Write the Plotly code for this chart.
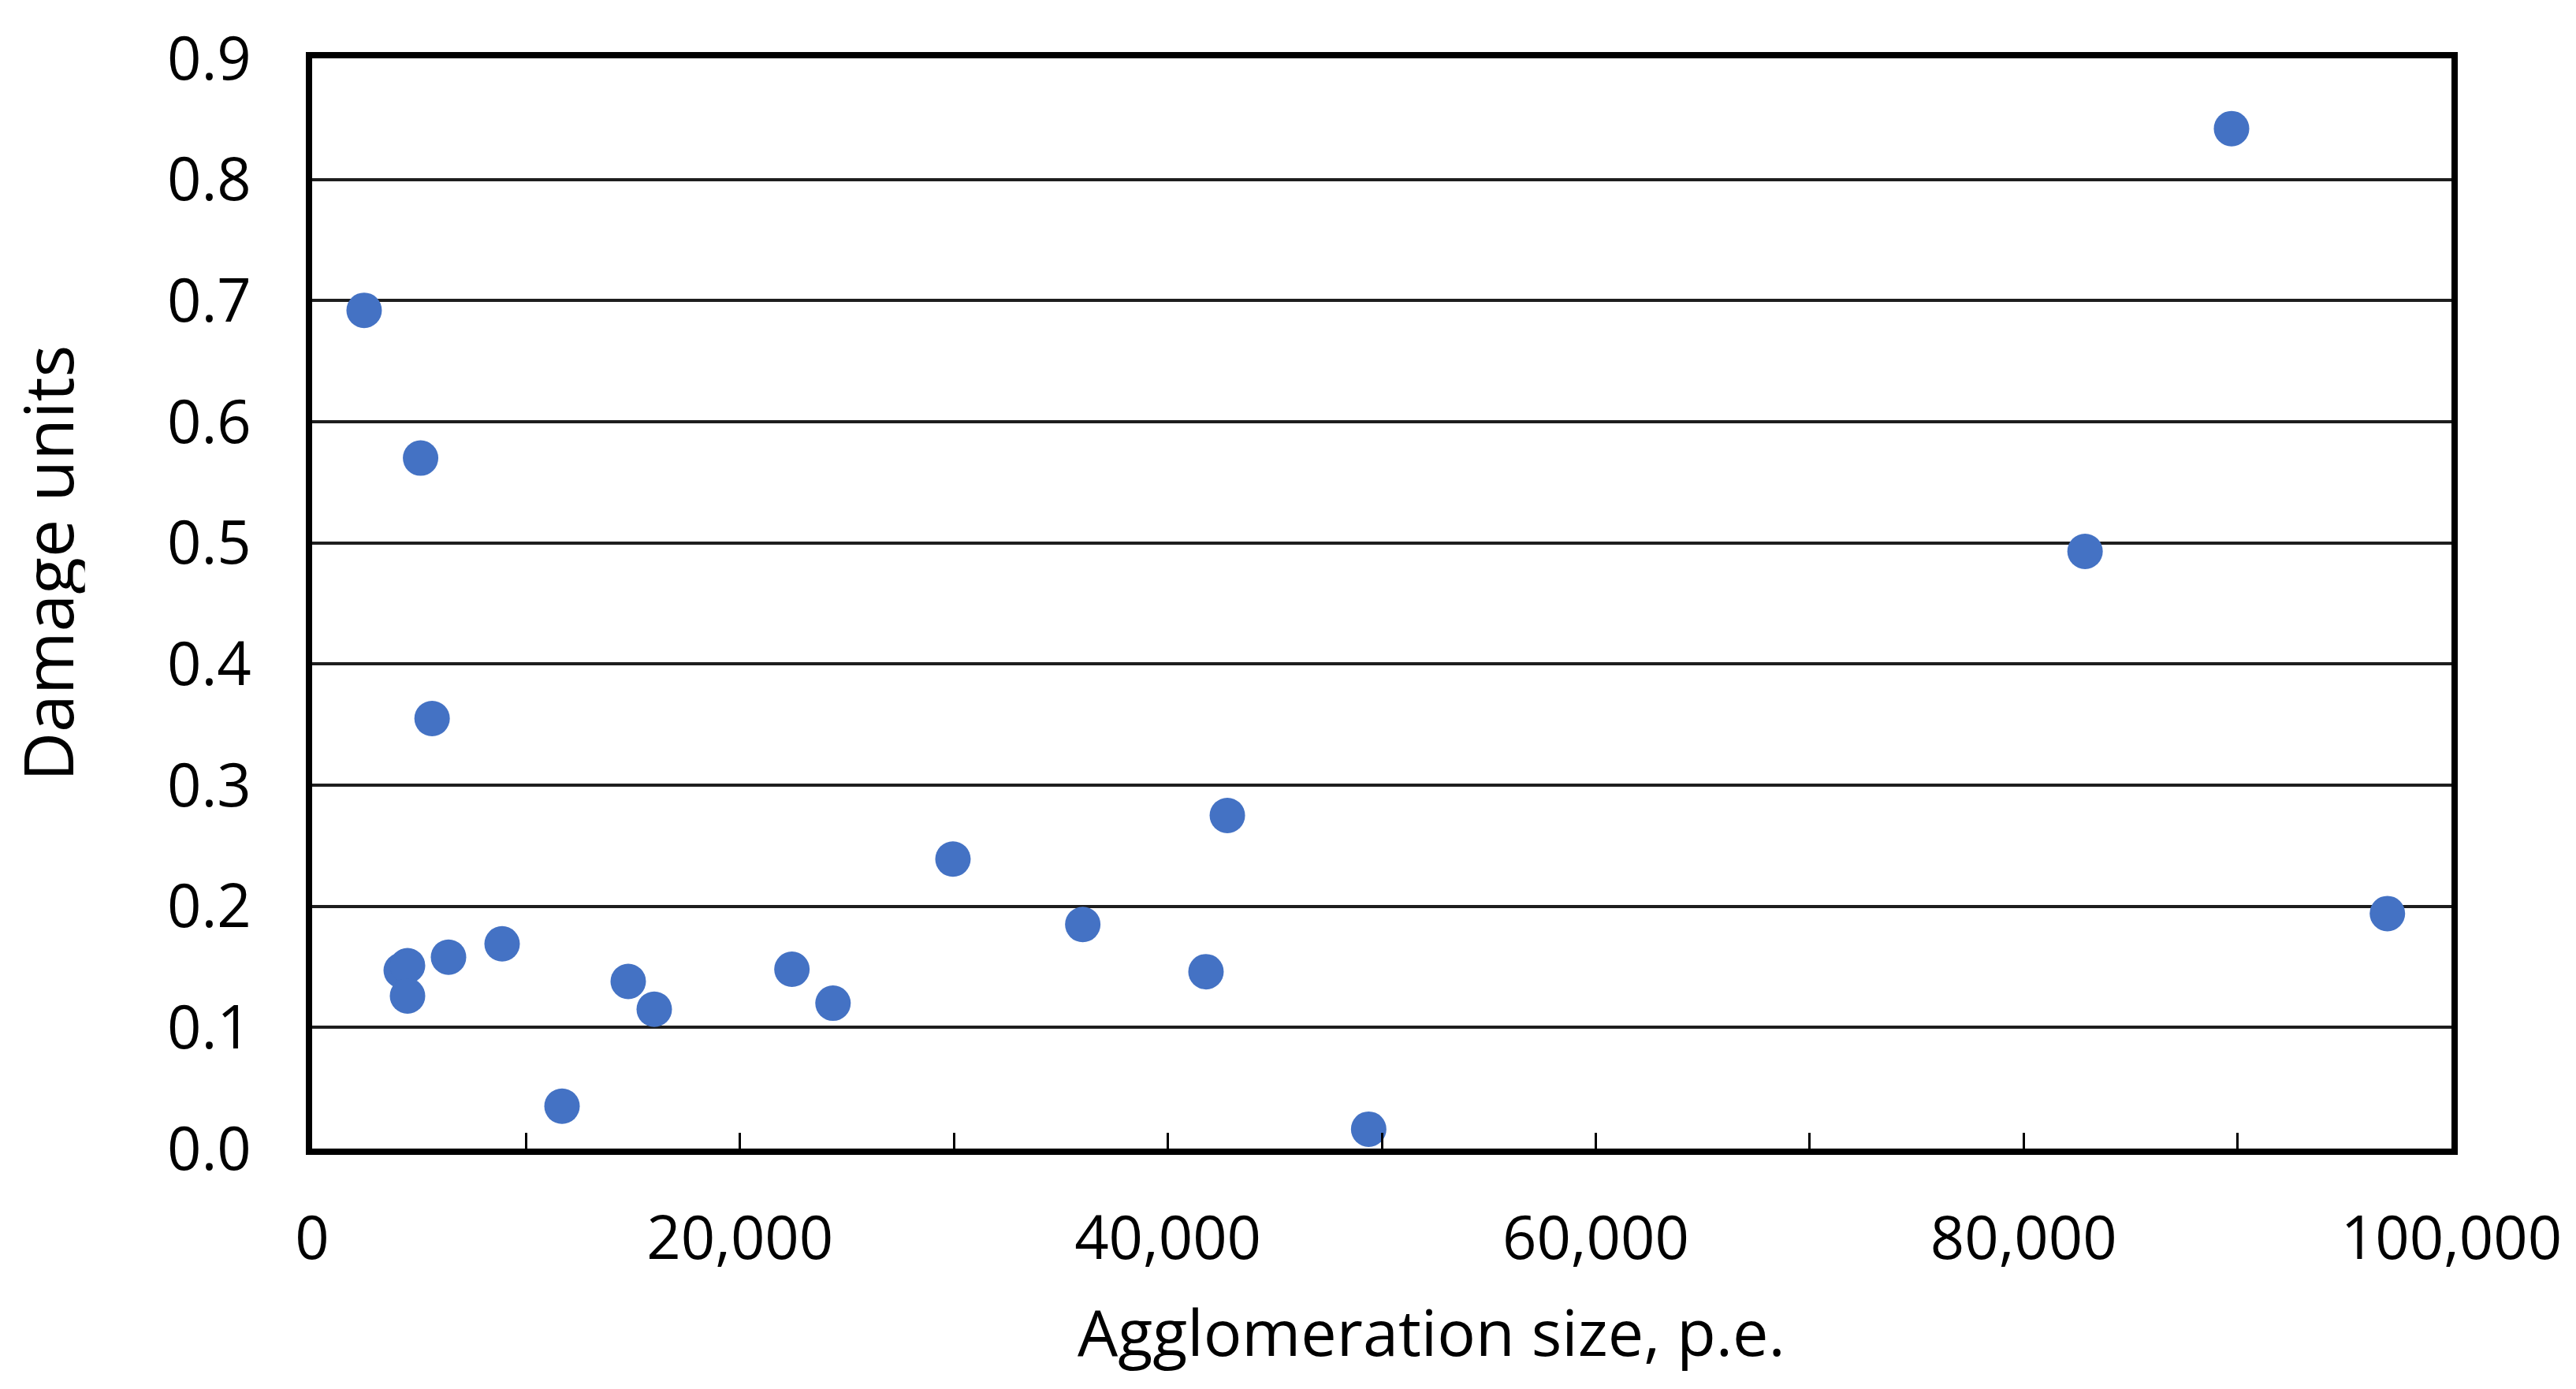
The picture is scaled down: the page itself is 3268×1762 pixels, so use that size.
import plotly.graph_objects as go

# Data
agglomeration_size = [2430, 5069, 5607, 4164, 4458, 4458, 6374, 8880, 11680, 14775, 15991,
                      22427, 24347, 29954, 36022, 41782, 42780, 49386, 82873, 89720, 97005]
damage_units = [0.692, 0.570, 0.355, 0.147, 0.151, 0.126, 0.158, 0.169, 0.035, 0.138, 0.115,
                0.148, 0.120, 0.239, 0.185, 0.146, 0.275, 0.016, 0.493, 0.842, 0.194]

x_title = "Agglomeration size, p.e."
y_title = "Damage units"

FONT = "Open Sans"
OFF = 8  # page body margin
W, H = 3268 - OFF, 1762 - OFF
L, T = 396 - OFF, 66 - OFF
PW, PH = 2714, 1391
R = W - L - PW
B = H - T - PH

fig = go.Figure()
fig.add_trace(go.Scatter(
    x=agglomeration_size, y=damage_units, mode="markers",
    marker=dict(size=45, color="#4472C4", line=dict(width=0)),
    showlegend=False,
))

def px_to_paper_x(px):
    return (px - OFF - L) / PW

def px_to_paper_y(py):
    return (T + PH - (py - OFF)) / PH

fig.update_layout(
    width=W, height=H,
    margin=dict(l=L, r=R, t=T, b=B, pad=0),
    paper_bgcolor="white", plot_bgcolor="white",
    font=dict(family=FONT, color="black", size=76),
    xaxis=dict(
        range=[0, 100000], dtick=20000, tick0=0, tickformat=",.0f",
        showgrid=False, zeroline=False,
        showline=True, linecolor="black", linewidth=8, mirror=True,
        ticks="inside", ticklen=20, tickwidth=3, tickcolor="black",
        minor=dict(dtick=10000, ticks="inside", ticklen=20, tickwidth=3, tickcolor="black", showgrid=False),
        tickfont=dict(size=76, family=FONT, color="black"),
        ticklabelstandoff=41,
    ),
    yaxis=dict(
        range=[0, 0.9], dtick=0.1, tick0=0, tickformat=".1f",
        showgrid=True, gridcolor="#1e1e1e", gridwidth=4,
        zeroline=False,
        showline=True, linecolor="black", linewidth=8, mirror=True,
        ticks="",
        tickfont=dict(size=76, family=FONT, color="black"),
        ticklabelstandoff=54,
    ),
    annotations=[
        dict(text=x_title, xref="paper", yref="paper",
             x=px_to_paper_x(1816), y=px_to_paper_y(1690),
             xanchor="center", yanchor="middle", showarrow=False,
             font=dict(size=81, family=FONT, color="black")),
        dict(text=y_title, xref="paper", yref="paper",
             x=px_to_paper_x(60), y=px_to_paper_y(710), textangle=-90,
             xanchor="center", yanchor="middle", showarrow=False,
             height=96,
             font=dict(size=86, family=FONT, color="black")),
    ],
)

fig.write_html("out.html")
